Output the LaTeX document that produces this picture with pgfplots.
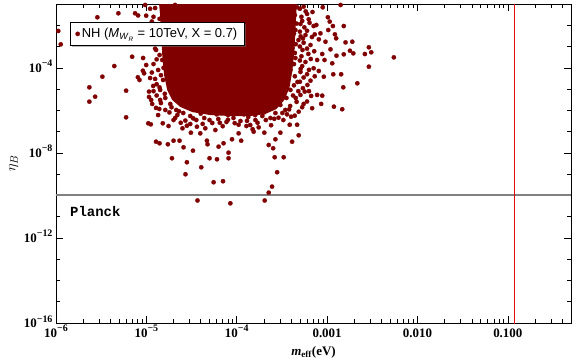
\documentclass[border=0pt]{standalone}
\usepackage{pgfplots}
\pgfplotsset{compat=1.18}
\usepackage{fontspec}
\setmainfont{Liberation Serif}
\newfontfamily\legfont{Liberation Sans}
\newfontfamily\pmono{Liberation Mono}
\usetikzlibrary{calc,shadows}
\definecolor{dred}{RGB}{128,0,0}
\definecolor{vred}{RGB}{225,10,10}
\definecolor{pgray}{RGB}{128,128,128}
\newcommand{\ex}[1]{10\raisebox{0.42em}{\fontsize{10}{10}\selectfont\bfseries #1}}
\begin{document}
\begin{tikzpicture}
\begin{axis}[
  scale only axis, width=515bp, height=319bp,
  xmode=log, ymode=log,
  xmin=1e-6, xmax=0.5, ymin=1e-16, ymax=0.1,
  xtick={1e-6,1e-5,1e-4,1e-3,1e-2,1e-1},
  xticklabels={{\ex{−6}},{\ex{−5}},{\ex{−4}},{0.001},{0.010},{0.100}},
  minor xtick={2e-6,3e-6,4e-6,5e-6,6e-6,7e-6,8e-6,9e-6,2e-5,3e-5,4e-5,5e-5,6e-5,7e-5,8e-5,9e-5,2e-4,3e-4,4e-4,5e-4,6e-4,7e-4,8e-4,9e-4,2e-3,3e-3,4e-3,5e-3,6e-3,7e-3,8e-3,9e-3,2e-2,3e-2,4e-2,5e-2,6e-2,7e-2,8e-2,9e-2,2e-1,3e-1,4e-1},
  ytick={1e-16,1e-12,1e-8,1e-4},
  yticklabels={{\ex{−16}},{\ex{−12}},{\ex{−8}},{\ex{−4}}},
  minor ytick={1e-15,1e-14,1e-13,1e-11,1e-10,1e-9,1e-7,1e-6,1e-5,1e-3,1e-2},
  major tick length=7bp, minor tick length=4bp,
  every tick/.style={black, line width=0.6pt},
  axis line style={line width=0.8pt},
  tick label style={font=\fontsize{13}{15}\selectfont\bfseries},
  xticklabel style={anchor=base, yshift=-14bp},
  yticklabel style={anchor=base east, yshift=-4.5bp},
  xlabel={{\bfseries\itshape m}\textsubscript{\bfseries eff}\textbf{(eV)}},
  ylabel={$\eta_B$},
  xlabel style={yshift=-2bp, font=\fontsize{13}{15}\selectfont},
  ylabel style={font=\fontsize{15}{17}\selectfont, yshift=-1bp},
  legend style={at={(0.027,0.944)}, anchor=north west, draw=black, line width=1.2pt, fill=white,
    font=\legfont\fontsize{13}{15}\selectfont, inner xsep=5pt, inner ysep=4pt,
    drop shadow={shadow xshift=2bp, shadow yshift=-2bp, fill=black!55}},
  legend image post style={line width=0.3pt},
  legend cell align=left,
]
% saturated core of the scatter
\addplot[draw=none, fill=dred, forget plot] coordinates {
(1.35e-5,0.3) (1.42e-5,3.05e-2) (1.46e-5,3.46e-3) (1.5e-5,4.0e-4) (1.57e-5,4.6e-5)
(1.7e-5,9.1e-6) (1.93e-5,3.08e-6) (2.37e-5,1.45e-6) (3.22e-5,8.3e-7) (5.1e-5,6.0e-7)
(8.5e-5,5.4e-7) (1.41e-4,5.4e-7) (2.07e-4,6.7e-7) (2.75e-4,1.16e-6) (3.37e-4,3.08e-6)
(3.83e-4,1.13e-5) (4.14e-4,7.9e-5) (4.35e-4,6.9e-4) (4.46e-4,5.97e-3) (4.58e-4,5.2e-2) (4.7e-4,0.3)
} -- cycle;
\addplot[only marks, mark=*, mark size=2.2pt, mark options={draw=dred, fill=dred, line width=0.2pt}] coordinates {
(1.06e-6,5.4e-3) (1.13e-6,1.27e-3) (2.87e-6,2.38e-2) (4.9e-6,3.67e-2) (7.5e-6,3.67e-2)
(8.1e-6,2.9e-2) (9.95e-6,2.83e-2) (2.34e-6,1.21e-5) (2.71e-6,4.4e-6) (2.34e-6,2.56e-6)
(4.42e-6,1.21e-4) (3.26e-6,3.82e-5) (5.97e-6,8.4e-6) (5.97e-6,4.7e-7) (6.96e-6,3.32e-4)
(8.05e-6,3.6e-5) (8.4e-6,2.68e-5) (9.15e-6,7.3e-5) (9.45e-6,5.5e-5) (1.07e-5,7.6e-6)
(1.13e-5,3.08e-6) (1.28e-5,1.3e-6) (1.39e-5,1.16e-6) (1.52e-5,2.46e-7) (1.05e-5,2.46e-7)
(1.12e-5,2.2e-7) (1.28e-5,3.36e-8) (1.4e-5,2.83e-8) (1.73e-5,2.54e-8) (2.0e-5,3.74e-8)
(2.33e-5,3.74e-8) (2.58e-5,1.83e-8) (3.28e-5,1.27e-8) (1.92e-5,5.6e-9) (2.81e-5,3.63e-9)
(2.71e-5,9.9e-10) (4.05e-5,2.1e-9) (5.0e-5,5.6e-9) (6.05e-5,5.0e-9) (5.55e-5,4.17e-10)
(7.05e-5,4.65e-10) (3.68e-5,5.77e-11) (8.5e-5,4.26e-11) (8.12e-5,5.6e-9) (4.68e-5,3.74e-8)
(4.75e-5,2.54e-8) (1.12e-4,3.74e-8) (2.02e-4,8.9e-8) (2.26e-4,2.35e-8) (2.53e-4,1.65e-8)
(2.63e-4,6.24e-9) (3.31e-4,6.24e-9) (2.8e-4,1.23e-9) (2.46e-4,2.59e-10) (2.26e-4,1.35e-10)
(2.04e-4,5.77e-11) (4.1e-4,3.36e-8) (4.85e-4,6.7e-8) (4.66e-4,2.1e-7) (3.86e-4,2.1e-7)
(3.04e-4,8.9e-8) (2.68e-4,4.36e-8) (1.75e-4,1.59e-7) (1.54e-4,9.9e-8) (1.28e-4,1.83e-7)
(1.05e-4,8.3e-8) (8.87e-5,4.36e-8) (7.15e-5,2.83e-8) (6.3e-5,1.96e-8) (8.12e-5,1.02e-8)
(3.95e-5,8.3e-8) (4.49e-5,1.43e-7) (3.63e-5,1.7e-7) (3.11e-5,8.9e-8) (2.81e-5,1.89e-7)
(1.76e-5,1.83e-7) (2.0e-5,3.51e-7) (2.51e-5,1.43e-7)
(8.95e-4,7.02e-2) (1.02e-3,2.38e-2) (1.07e-3,1.48e-2) (1.16e-3,9.2e-3) (1.53e-3,9.2e-3)
(1.03e-3,5.97e-3) (1.22e-3,3.74e-3) (1.26e-3,2.43e-3) (1.6e-3,1.57e-3) (1.9e-3,1.68e-3)
(2.9e-3,9.2e-4) (3.08e-3,5.36e-4) (2.62e-3,4.45e-4) (1.95e-3,4.8e-4) (1.79e-3,6.36e-4)
(1.53e-3,4.3e-4) (1.27e-3,3.7e-4) (1.09e-3,7.4e-4) (9.37e-4,2.33e-4) (1.14e-3,1.63e-4)
(2.9e-3,1.13e-4) (2.16e-3,1.87e-5) (1.51e-3,1.21e-5) (1.43e-3,4.96e-5) (1.17e-3,4.96e-5)
(9.2e-4,3.82e-5) (8.1e-4,7.1e-5) (8.83e-4,4.9e-6) (7.76e-4,5.3e-6) (6.66e-4,4.75e-6)
(1.19e-3,1.49e-6) (1.47e-3,1.13e-6) (8.6e-4,2.0e-6) (6.83e-4,1.26e-6) (5.3e-4,1.4e-6)
(4.85e-4,8.6e-7) (4.38e-4,5.6e-7) (5.66e-4,7.6e-6) (6.55e-4,2.48e-5) (7.1e-4,9.5e-5)
(7.76e-4,2.33e-4) (8.83e-4,4.45e-4) (9.6e-4,1.68e-3) (8.44e-4,4.17e-3) (7.3e-4,3.74e-3)
(8.1e-4,2.18e-3) (7.1e-4,9.2e-3) (7.6e-4,1.03e-2) (6.27e-4,1.91e-2) (6.0e-4,3.4e-2)
(5.5e-4,7.5e-2) (4.66e-4,7.0e-2) (5.48e-3,3.1e-4) (1.41e-3,9.0e-2)
(3.93e-4,5.2e-2) (4.14e-4,1.77e-2) (4.46e-4,5.97e-3) (5.07e-4,1.15e-2) (4.82e-4,2.02e-3)
(4.14e-4,8.5e-4) (5.34e-4,6.9e-4) (4.46e-4,2.89e-4) (5.76e-4,1.87e-4) (3.93e-4,7.9e-5)
(5.07e-4,6.36e-5) (4.7e-4,2.16e-5) (3.93e-4,9.1e-6) (3.55e-4,3.82e-6) (3.04e-4,1.79e-6)
(3.45e-4,1.04e-6) (2.68e-4,7.5e-7) (2.36e-4,4.36e-7) (1.92e-4,5.4e-7) (1.61e-4,3.51e-7)
(1.34e-4,4.85e-7) (1.1e-4,3.15e-7) (9.2e-5,4.36e-7) (7.7e-5,2.83e-7) (6.25e-5,3.9e-7)
(5.36e-5,2.54e-7) (4.37e-5,4.36e-7) (3.57e-5,3.51e-7) (3.06e-5,5.4e-7) (2.56e-5,7.5e-7)
(2.14e-5,1.04e-6) (1.84e-5,2.0e-6) (1.62e-5,3.82e-6) (1.42e-5,9.1e-6) (1.53e-5,2.68e-5)
(1.35e-5,7.9e-5) (1.5e-5,2.33e-4) (1.28e-5,6.9e-4) (1.25e-5,6.5e-2) (1.5e-5,4.2e-2)
(9.2e-6,2.89e-4) (9.95e-6,1.35e-4) (1.1e-5,3.3e-5) (1.19e-5,1.4e-5) (1.07e-5,4.26e-6)
(1.42e-5,3.08e-6) (1.16e-5,2.0e-6) (1.62e-5,1.04e-6) (1.35e-5,6.0e-7) (2.08e-5,4.36e-7)
(3.06e-5,2.28e-7) (5.8e-5,1.19e-7) (1.41e-4,2.04e-7) (3.28e-4,3.51e-7) (5.07e-4,5.3e-6)
(6.06e-4,1.56e-5) (6.55e-4,1.18e-3) (5.76e-4,3.46e-3) (6.89e-4,4.2e-2) (2.08e-5,9e-2)
(9.7e-6,9e-2)
(4.4e-4,3e-2) (5.2e-4,2.5e-2) (4.6e-4,1.2e-2) (5.6e-4,8e-3) (4.3e-4,4e-3) (5.1e-4,3e-3)
(4.5e-4,1.3e-3) (5.5e-4,1.5e-3) (4.4e-4,5e-4) (5.2e-4,3.5e-4) (6.2e-4,4.5e-4) (4.3e-4,1.5e-4)
(5.3e-4,1.2e-4) (6.3e-4,8e-5) (4.4e-4,4e-5) (5.5e-4,3.5e-5) (4.3e-4,1.5e-5) (5.4e-4,1.1e-5)
(4.2e-4,5e-6) (4.6e-4,2.5e-6) (3.9e-4,1.6e-6) (6e-4,2.6e-6)
(4e-5,7e-7) (6e-5,6.5e-7) (8e-5,6e-7) (1.2e-4,6.5e-7) (1.6e-4,6e-7) (2e-4,8e-7) (2.4e-4,1.2e-6)
(2.2e-5,6e-7) (3.5e-5,1.2e-6) (1.05e-4,2.1e-7) (7e-5,1.8e-7) (2.9e-4,4.5e-7) (3.6e-4,6.5e-7)
(1.9e-5,1.4e-6)
(1.3e-5,1.7e-5) (1.45e-5,4.5e-5) (1.2e-5,1.5e-4) (1.4e-5,4e-4) (1.55e-5,1e-4) (1.6e-5,6e-6)
(1.3e-5,5e-6) (1.4e-5,2e-2) (1.2e-5,2.5e-2)
(5.0e-4,6e-2) (5.8e-4,4.5e-2) (5.3e-4,1.6e-2) (6.4e-4,1.3e-2) (5.0e-4,5e-3) (6.0e-4,5.5e-3)
(5.4e-4,2.4e-3) (6.8e-4,2.8e-3) (5.0e-4,1e-3) (6.0e-4,8e-4) (7.2e-4,6e-4) (5.0e-4,2.2e-4)
(6.6e-4,2.6e-4) (5.1e-4,9e-5) (6.0e-4,5e-5) (7.3e-4,4e-5) (5.0e-4,2.2e-5) (6.3e-4,8e-6)
(4.8e-4,8e-6) (4.5e-4,3.8e-6) (5.5e-4,2e-6) (3.8e-4,1.1e-6) (4.0e-4,5e-7) (3.2e-4,7.5e-7)
(2.6e-4,4e-7) (2.1e-4,3.5e-7) (1.7e-4,2.6e-7) (1.3e-4,3.2e-7) (9.5e-5,2.5e-7) (8e-5,3.6e-7)
(6.5e-5,2.6e-7) (5e-5,3.5e-7) (4.2e-5,2.3e-7) (3.3e-5,4.2e-7) (2.7e-5,3.3e-7) (2.3e-5,9e-7)
(1.8e-5,8e-7) (2.4e-5,2.6e-7) (1.5e-4,1.3e-7) (2.4e-4,2e-7)
(1.25e-5,8e-4) (1.3e-5,2.5e-4) (1.15e-5,6e-5) (1.25e-5,3e-5) (1.4e-5,1.2e-5) (1.2e-5,8e-6)
(1.45e-5,2.2e-6) (1.1e-5,6e-2) (1.15e-5,1.5e-2)
};
\addlegendentry{NH (\textit{M}\textsubscript{\textit{W}\textsubscript{\textit{R}}} = 10TeV, X = 0.7)}
\addplot[pgray, line width=2pt, forget plot] coordinates {(1e-7,1e-10) (1,1e-10)};
\addplot[vred, line width=1pt, forget plot] coordinates {(0.12,1e-17) (0.12,1)};
\node[anchor=west, inner sep=0pt, font=\pmono\bfseries\fontsize{14}{16}\selectfont] at (axis cs:1.43e-6,1.72e-11) {Planck};
\end{axis}
\path ($(current axis.south west)+(-56bp,-40bp)$) rectangle ($(current axis.north east)+(5bp,4bp)$);
\end{tikzpicture}
\end{document}
